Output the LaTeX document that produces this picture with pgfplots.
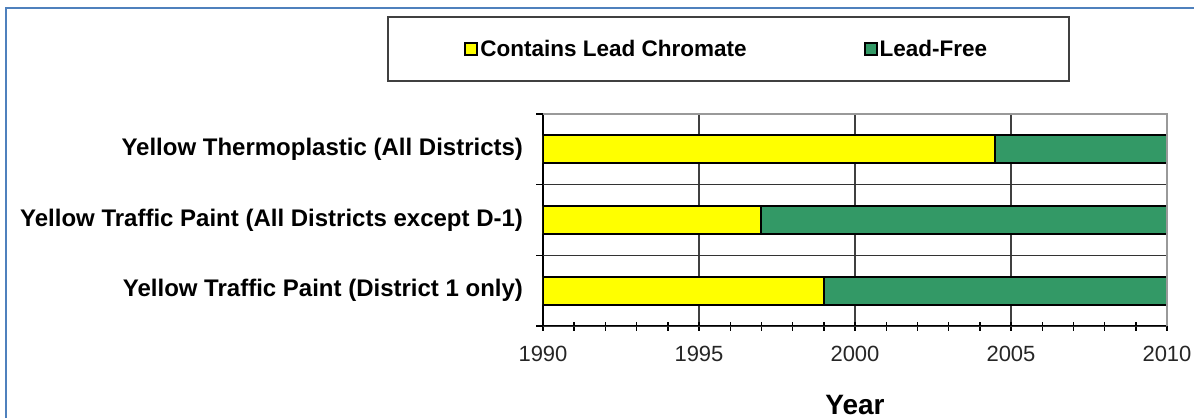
\documentclass[border=0pt]{standalone}
\usepackage{fontspec}
\setmainfont{Liberation Sans}
\usepackage{pgfplots}
\pgfplotsset{compat=1.18}
\definecolor{frameblue}{RGB}{79,129,189}
\definecolor{leadyellow}{RGB}{255,255,0}
\definecolor{leadgreen}{RGB}{51,153,102}
\pgfplotsset{legsq/.style={legend image code/.code={\draw[##1, draw=black, line width=2pt] (0pt,-6pt) rectangle (12pt,6pt);}}}
\begin{document}
\begin{tikzpicture}
\useasboundingbox (0,0) rectangle (1194pt,-418pt);
\draw[frameblue, line width=2pt] (6pt,-418pt) -- (6pt,-8pt) -- (1194pt,-8pt);
\draw[black!75, line width=1.5pt, fill=white] (388pt,-17pt) rectangle (1069pt,-81pt);
\begin{axis}[
  name=ax,
  at={(543pt,-326pt)}, anchor=south west,
  scale only axis, width=624pt, height=212pt,
  xbar stacked, bar width=28pt,
  xmin=1990, xmax=2010, ymin=0.5, ymax=3.5,
  axis x line*=bottom, axis y line*=left,
  axis line style={black, line width=1.5pt},
  xtick={1990,1995,2000,2005,2010},
  minor x tick num=4,
  xmajorgrids, major grid style={black!75, line width=1.5pt},
  tick align=center,
  major tick length=9pt, minor tick length=9pt,
  tick style={black, line width=1.2pt},
  minor tick style={black, line width=1.4pt},
  ytick={1,2,3},
  ytick style={draw=none},
  yticklabels={Yellow Traffic Paint (District 1 only), Yellow Traffic Paint (All Districts except  D-1), Yellow Thermoplastic (All Districts)},
  yticklabel style={font=\fontsize{24}{28}\selectfont\bfseries, anchor=east, xshift=-12pt},
  extra y ticks={0.5,1.5,2.5,3.5},
  extra y tick labels={},
  extra y tick style={tick align=outside, major tick length=7pt, ytick style={draw=black, line width=1.2pt}, ymajorgrids, major grid style={black!80, line width=1pt}},
  xticklabel style={font=\fontsize{22}{26}\selectfont, color=black!85, yshift=-12pt},
  /pgf/number format/1000 sep={},
  /pgf/number format/assume math mode=true,
  xlabel={Year},
  x label style={font=\fontsize{28}{32}\selectfont\bfseries, at={(axis description cs:0.5,-0.3726)}, anchor=center},
  legend style={at={(axis description cs:0.2945,1.3066)}, anchor=center, draw=none, fill=none,
    font=\fontsize{22.5}{27}\selectfont\bfseries, legend columns=2,
    /tikz/every even column/.append style={column sep=115pt}},
  legend cell align=left,
]
\addplot[fill=leadyellow, draw=black, line width=2pt, legsq] coordinates {(1999,1) (1997,2) (2004.5,3)};
\addplot[fill=leadgreen, draw=black, line width=2pt, legsq] coordinates {(11,1) (13,2) (5.5,3)};
\legend{Contains Lead Chromate, Lead-Free}
\end{axis}
\draw[black!40, line width=2.5pt] (ax.north west) -- (ax.north east) -- (ax.south east);
\end{tikzpicture}
\end{document}
